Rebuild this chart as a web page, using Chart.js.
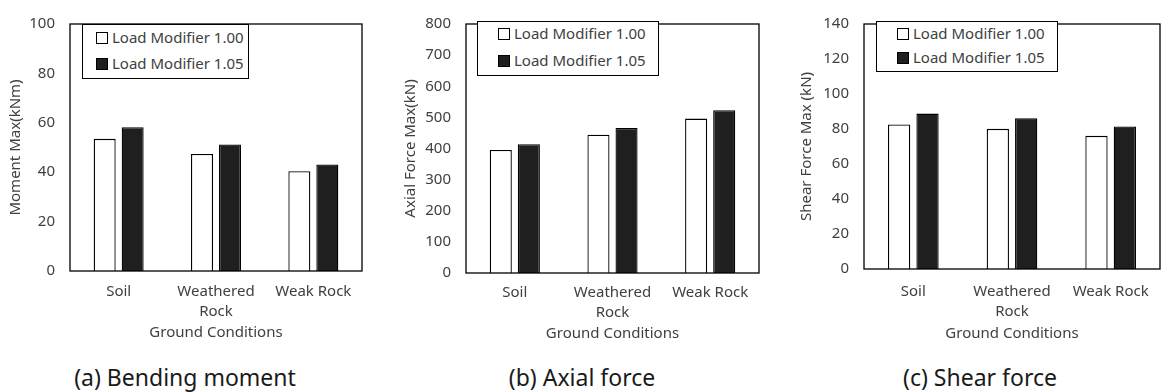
<!DOCTYPE html>
<html>
<head>
<meta charset="utf-8">
<script src="https://cdn.jsdelivr.net/npm/chart.js@4"></script>
<style>
  body { margin: 0; background: #fff; font-family: "Noto Sans", sans-serif; }
  #wrap { position: relative; width: 1165px; height: 392px; overflow: hidden; }
  .panel { position: absolute; top: 0; width: 385px; height: 350px; }
  .legend {
    position: absolute; border: 1.3px solid #000; background: #fff;
    font-size: 15px; color: #404040; box-sizing: border-box;
  }
  .legend div { position: absolute; white-space: nowrap; line-height: 16px; }
  .legend span.sw {
    display: inline-block; width: 10px; height: 10px; border: 1px solid #000;
    margin-right: 4px; vertical-align: -1px;
  }
  .caption {
    position: absolute; top: 362px; font-size: 23px; color: #1a1a1a;
    transform: translateX(-50%); white-space: nowrap; line-height: 30px;
  }
</style>
</head>
<body>
<div id="wrap">
  <div class="panel" style="left:0px"><canvas id="momentChart"></canvas></div>
  <div class="panel" style="left:390px"><canvas id="axialChart"></canvas></div>
  <div class="panel" style="left:780px"><canvas id="shearChart"></canvas></div>

  <div class="legend" style="left:82px; top:24px; width:167px; height:55px">
    <div style="left:13px; top:4px"><span class="sw" style="background:#fff"></span>Load Modifier 1.00</div>
    <div style="left:13px; top:30px"><span class="sw" style="background:#1f1f1f"></span>Load Modifier 1.05</div>
  </div>
  <div class="legend" style="left:477px; top:21px; width:182px; height:55px">
    <div style="left:20px; top:3px"><span class="sw" style="background:#fff"></span>Load Modifier 1.00</div>
    <div style="left:20px; top:30px"><span class="sw" style="background:#1f1f1f"></span>Load Modifier 1.05</div>
  </div>
  <div class="legend" style="left:876px; top:21px; width:182px; height:51px">
    <div style="left:20px; top:3px"><span class="sw" style="background:#fff"></span>Load Modifier 1.00</div>
    <div style="left:20px; top:27px"><span class="sw" style="background:#1f1f1f"></span>Load Modifier 1.05</div>
  </div>

  <div class="caption" style="left:185px">(a) Bending moment</div>
  <div class="caption" style="left:582px">(b) Axial force</div>
  <div class="caption" style="left:980px">(c) Shear force</div>
</div>

<script>
const categories = [["Soil"], ["Weathered", "Rock"], ["Weak Rock"]];
const seriesNames = ["Load Modifier 1.00", "Load Modifier 1.05"];

const moment100 = [53.5, 47.4, 40.4];
const moment105 = [58.2, 51.2, 43.1];

const axial100 = [395, 444, 496];
const axial105 = [414, 466, 523];

const shear100 = [82.6, 80.1, 76.1];
const shear105 = [88.8, 86.1, 81.5];

const textColor = "#404040";
const fontFamily = "'Noto Sans', sans-serif";

// draws the black frame around the plot area
const framePlugin = {
  id: "frame",
  afterDraw(chart) {
    const { ctx, chartArea: a } = chart;
    ctx.save();
    ctx.strokeStyle = "#000";
    ctx.lineWidth = 1.3;
    ctx.strokeRect(a.left, a.top, a.right - a.left, a.bottom - a.top);
    ctx.restore();
  },
};

function makeChart(id, data100, data105, cfg) {
  const ctx = document.getElementById(id).getContext("2d");
  return new Chart(ctx, {
    type: "bar",
    data: {
      labels: categories,
      datasets: [
        {
          label: seriesNames[0],
          data: data100,
          backgroundColor: "#ffffff",
          borderColor: "#000",
          borderWidth: 1.3,
        },
        {
          label: seriesNames[1],
          data: data105,
          backgroundColor: "#1f1f1f",
          borderColor: "#000",
          borderWidth: 1.3,
        },
      ],
    },
    options: {
      responsive: false,
      animation: false,
      maintainAspectRatio: false,
      categoryPercentage: 0.575,
      barPercentage: 0.786,
      layout: { padding: { left: 0, right: cfg.padRight, top: cfg.padTop, bottom: 0 } },
      plugins: {
        legend: { display: false },
        tooltip: { enabled: false },
      },
      scales: {
        x: {
          grid: { display: false, drawTicks: false, tickLength: 0 },
          border: { display: false },
          ticks: {
            color: textColor,
            padding: cfg.xTickPad,
            font: { family: fontFamily, size: 15, lineHeight: 1.33 },
            maxRotation: 0,
            autoSkip: false,
          },
          title: {
            display: true,
            text: "Ground Conditions",
            color: textColor,
            font: { family: fontFamily, size: 15, lineHeight: 1.2 },
            padding: { top: 0, bottom: cfg.xTitlePad },
          },
          afterFit(scale) {
            scale.height = cfg.xHeight;
          },
        },
        y: {
          min: 0,
          max: cfg.yMax,
          grid: { display: false, drawTicks: false, tickLength: 0 },
          border: { display: false },
          ticks: {
            stepSize: cfg.yStep,
            color: textColor,
            padding: 15,
            font: { family: fontFamily, size: 15 },
          },
          title: {
            display: true,
            text: cfg.yTitle,
            color: textColor,
            font: { family: fontFamily, size: 15, lineHeight: 1.2 },
            padding: { top: cfg.yTitlePad, bottom: 0 },
          },
          afterFit(scale) {
            scale.width = cfg.yWidth;
          },
        },
      },
    },
    plugins: [framePlugin],
  });
}

function sizeCanvas(id) {
  const c = document.getElementById(id);
  c.width = 385;
  c.height = 350;
  c.style.width = "385px";
  c.style.height = "350px";
}

["momentChart", "axialChart", "shearChart"].forEach(sizeCanvas);

makeChart("momentChart", moment100, moment105, {
  yMax: 100, yStep: 20, yTitle: "Moment Max(kNm)",
  yWidth: 70, padRight: 23, padTop: 15, xHeight: 79,
  xTickPad: 11, xTitlePad: 8, yTitlePad: 7,
});

makeChart("axialChart", axial100, axial105, {
  yMax: 800, yStep: 100, yTitle: "Axial Force Max(kN)",
  yWidth: 76, padRight: 16, padTop: 12, xHeight: 77,
  xTickPad: 10, xTitlePad: 7, yTitlePad: 12,
});

makeChart("shearChart", shear100, shear105, {
  yMax: 140, yStep: 20, yTitle: "Shear Force Max (kN)",
  yWidth: 84, padRight: 5, padTop: 12, xHeight: 81,
  xTickPad: 13, xTitlePad: 7, yTitlePad: 18,
});
</script>
</body>
</html>
